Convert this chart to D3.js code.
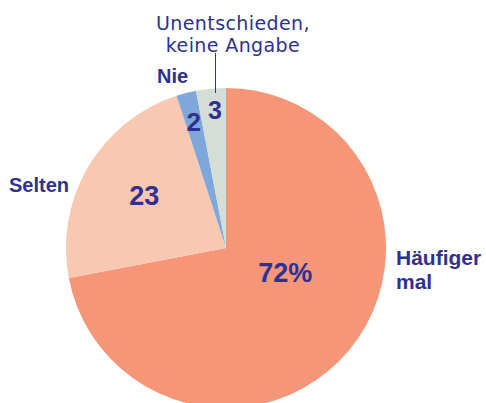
<!DOCTYPE html>
<html>
<head>
<meta charset="utf-8">
<script src="https://cdn.jsdelivr.net/npm/d3@7"></script>
<style>
  body { margin: 0; background: #fff; }
  text { font-family: "Liberation Sans", Arial, sans-serif; fill: #2e3192; }
  .value { font-weight: bold; }
  .cat { font-weight: bold; font-size: 21px; }
  .note { font-family: "DejaVu Sans", sans-serif; font-size: 19px; letter-spacing: 0.4px; }
</style>
</head>
<body>
<svg width="486" height="403"></svg>
<script>
  const categories = ["Häufiger mal", "Selten", "Nie", "Unentschieden, keine Angabe"];
  const values = [72, 23, 2, 3];
  const valueLabels = ["72%", "23", "2", "3"];
  const colors = ["#f49677", "#f9c8b2", "#7fa8da", "#d5ddd7"];

  const svg = d3.select("svg");
  const cx = 226, cy = 248, radius = 160;

  const pie = d3.pie().sort(null).value((d) => d.value);
  const data = categories.map((c, i) => ({ cat: c, value: values[i], label: valueLabels[i], color: colors[i] }));
  const arcs = pie(data);

  const arc = d3.arc().innerRadius(0).outerRadius(radius);

  const g = svg.append("g").attr("transform", `translate(${cx}, ${cy})`);

  g.selectAll("path")
    .data(arcs)
    .enter()
    .append("path")
    .attr("d", arc)
    .attr("fill", (d) => d.data.color);

  // value labels: radius + nudge + size per slice
  const labelLayout = [
    { r: 64, dx: 10, dy: -16, size: 27 },
    { r: 96, dx: 1, dy: -3, size: 27 },
    { r: 130, dx: 0, dy: 0, size: 26 },
    { r: 139, dx: 2, dy: 0, size: 25 },
  ];
  g.selectAll("text.value")
    .data(arcs)
    .enter()
    .append("text")
    .attr("class", "value")
    .attr("text-anchor", "middle")
    .attr("dominant-baseline", "central")
    .style("font-size", (d, i) => labelLayout[i].size + "px")
    .attr("transform", (d, i) => {
      const L = labelLayout[i];
      const [x, y] = d3.arc().innerRadius(L.r).outerRadius(L.r).centroid(d);
      return `translate(${x + L.dx}, ${y + L.dy})`;
    })
    .text((d) => d.data.label);

  // category labels
  svg.append("text").attr("class", "cat").attr("x", 396).attr("y", 265).text("Häufiger");
  svg.append("text").attr("class", "cat").attr("x", 396).attr("y", 289).text("mal");
  svg.append("text").attr("class", "cat").attr("x", 9).attr("y", 192).style("font-size", "20px").text("Selten");
  svg.append("text").attr("class", "cat").attr("x", 157).attr("y", 83).style("font-size", "20px").text("Nie");
  svg.append("text").attr("class", "note").attr("x", 233).attr("y", 30).attr("text-anchor", "middle").text("Unentschieden,");
  svg.append("text").attr("class", "note").attr("x", 233).attr("y", 52).attr("text-anchor", "middle").text("keine Angabe");

  svg.append("line")
    .attr("x1", 215.5).attr("x2", 215.5)
    .attr("y1", 53).attr("y2", 93)
    .attr("stroke", "#2e3192")
    .attr("stroke-width", 1);
</script>
</body>
</html>
